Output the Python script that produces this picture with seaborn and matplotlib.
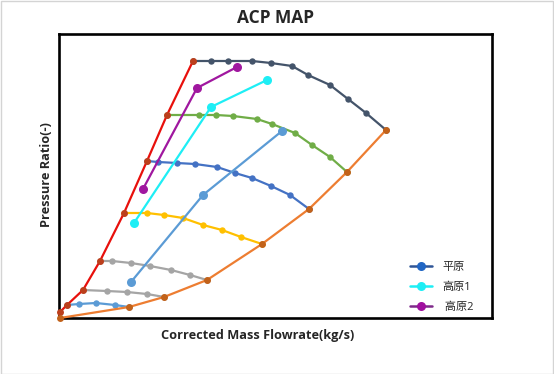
import pandas as pd
import matplotlib
matplotlib.use("Agg")
import matplotlib.pyplot as plt
import seaborn as sns
from matplotlib.lines import Line2D
from matplotlib.patches import Rectangle

# surge line (red) and choke line (orange)
surge_x = [0.01, 0.08, 0.24, 0.41, 0.65, 0.88, 1.08, 1.34]
surge_y = [1.06, 1.13, 1.28, 1.57, 2.05, 2.57, 3.03, 3.57]
choke_x = [0.01, 0.70, 1.05, 1.48, 2.03, 2.50, 2.88, 3.27]
choke_y = [1.00, 1.11, 1.21, 1.38, 1.74, 2.09, 2.46, 2.88]

# speed lines
speed_lines = [
    ("#5B9BD5", [0.08, 0.20, 0.37, 0.56, 0.70], [1.13, 1.14, 1.15, 1.13, 1.11]),
    ("#A5A5A5", [0.24, 0.48, 0.68, 0.88, 1.05], [1.28, 1.27, 1.26, 1.24, 1.21]),
    ("#A5A5A5", [0.41, 0.53, 0.72, 0.91, 1.12, 1.31, 1.48],
     [1.57, 1.57, 1.55, 1.52, 1.48, 1.43, 1.38]),
    ("#FFC000", [0.65, 0.88, 1.05, 1.24, 1.44, 1.63, 1.82, 2.03],
     [2.05, 2.05, 2.03, 2.00, 1.93, 1.88, 1.81, 1.74]),
    ("#4472C4", [0.88, 0.99, 1.18, 1.36, 1.58, 1.76, 1.93, 2.12, 2.31, 2.50],
     [2.57, 2.56, 2.55, 2.54, 2.51, 2.45, 2.40, 2.32, 2.23, 2.09]),
    ("#70AD47", [1.08, 1.40, 1.57, 1.74, 1.98, 2.13, 2.36, 2.53, 2.71, 2.88],
     [3.03, 3.03, 3.03, 3.02, 2.99, 2.94, 2.85, 2.73, 2.61, 2.46]),
    ("#44546A", [1.34, 1.52, 1.69, 1.93, 2.12, 2.33, 2.49, 2.71, 2.89, 3.07, 3.27],
     [3.57, 3.57, 3.57, 3.57, 3.55, 3.52, 3.43, 3.33, 3.19, 3.05, 2.88]),
]

# operating lines
plain_x = [0.72, 1.44, 2.23]
plain_y = [1.36, 2.23, 2.87]
high1_x = [0.75, 1.52, 2.08]
high1_y = [1.95, 3.11, 3.38]
high2_x = [0.84, 1.38, 1.78]
high2_y = [2.29, 3.30, 3.51]

labels = ["平原", "高原1", " 高原2"]

sns.set_style("white")
plt.rcParams["font.family"] = ["Open Sans", "Noto Sans CJK SC", "DejaVu Sans"]

fig = plt.figure(figsize=(5.54, 3.74), dpi=100)
ax = fig.add_axes([59 / 554, 1 - 318 / 374, 433 / 554, 284 / 374])


def draw(xs, ys, color, ms, lw=1.6, mcolor=None, z=2, clip=True):
    df = pd.DataFrame({"x": xs, "y": ys})
    sns.lineplot(data=df, x="x", y="y", sort=False, estimator=None, ax=ax,
                 color=color, linewidth=lw, marker="o", markersize=ms,
                 markerfacecolor=mcolor or color, markeredgewidth=0,
                 zorder=z, clip_on=clip)


for color, xs, ys in speed_lines:
    draw(xs, ys, color, 4.6)

draw(plain_x, plain_y, "#5B9BD5", 6.5, z=3)
draw(high1_x, high1_y, "#1EEEF5", 6.5, z=3)
draw(high2_x, high2_y, "#A0179F", 6.5, z=3)

draw(surge_x, surge_y, "#E8100C", 5.0, mcolor="#BC3F1C", z=4, clip=False)
draw(choke_x, choke_y, "#ED7D31", 5.0, mcolor="#C2621A", z=4, clip=False)

ax.set_xlim(0, 4.33)
ax.set_ylim(1.0, 3.84)
ax.set_xticks([])
ax.set_yticks([])
ax.set_xlabel("")
ax.set_ylabel("")
for sp in ax.spines.values():
    sp.set_visible(True)
    sp.set_color("black")
    sp.set_linewidth(1.9)

fig.text(275.5 / 554, 1 - 18 / 374, "ACP MAP", ha="center", va="center",
         fontsize=12.5, fontweight="bold")
fig.text(258 / 554, 1 - 335 / 374, "Corrected Mass Flowrate(kg/s)",
         ha="center", va="center", fontsize=9.2, fontweight="bold")
fig.text(47 / 554, 1 - 175 / 374, "Pressure Ratio(-)", ha="center",
         va="center", rotation=90, fontsize=9.2, fontweight="bold")

handles = [
    Line2D([], [], color="#2F5597", lw=1.8, marker="o", markersize=6.5,
           markerfacecolor="#2166C4", markeredgewidth=0),
    Line2D([], [], color="#1EEEF5", lw=1.8, marker="o", markersize=6.5,
           markeredgewidth=0),
    Line2D([], [], color="#7F2A8A", lw=1.8, marker="o", markersize=6.5,
           markerfacecolor="#A0109F", markeredgewidth=0),
]
ax.legend(handles, labels, loc="upper left",
          bbox_to_anchor=(400 / 554, 1 - 252 / 374),
          bbox_transform=fig.transFigure, frameon=False, fontsize=8,
          handlelength=2.0, handletextpad=0.9, labelspacing=0.8)

fig.patches.append(Rectangle((0.001, 0.001), 0.997, 0.997,
                             transform=fig.transFigure, fill=False,
                             edgecolor="#D4D4D4", linewidth=1))

fig.savefig("out.png", dpi=100)
